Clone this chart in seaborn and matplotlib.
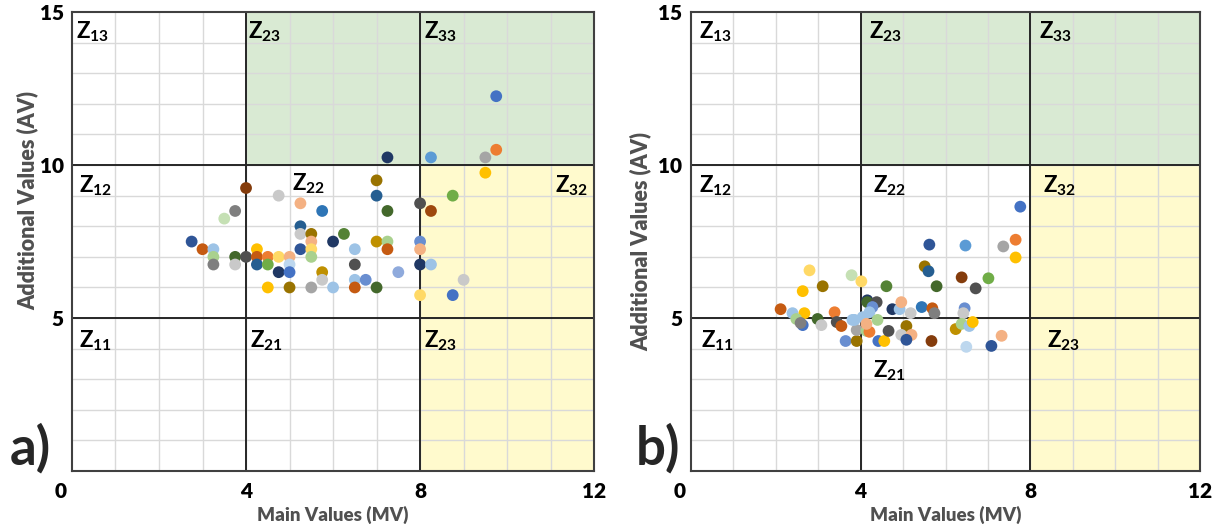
import numpy as np
import pandas as pd
import matplotlib
matplotlib.use("Agg")
import matplotlib.pyplot as plt
import matplotlib.transforms as mtransforms
import seaborn as sns

# --- Data ---
# panel a
mv_a = [2.75, 3.0, 3.25, 3.25, 3.25, 3.5, 3.75, 3.75, 3.75, 4.0,
        4.0, 4.25, 4.25, 4.25, 4.5, 4.5, 4.5, 4.75, 4.75, 4.75,
        5.0, 5.0, 5.0, 5.0, 5.25, 5.25, 5.25, 5.25, 5.5, 5.5,
        5.5, 5.5, 5.5, 5.75, 5.75, 5.75, 6.0, 6.0, 6.25, 6.5,
        6.5, 6.5, 6.5, 6.75, 7.0, 7.0, 7.0, 7.0, 7.25, 7.25,
        7.25, 7.25, 7.5, 8.0, 8.0, 8.0, 8.0, 8.0, 8.25, 8.25,
        8.25, 8.75, 8.75, 9.0, 9.5, 9.5, 9.75, 9.75]
av_a = [7.5, 7.25, 7.25, 7.0, 6.75, 8.25, 8.5, 7.0, 6.75, 7.0,
        9.25, 7.25, 7.0, 6.75, 7.0, 6.75, 6.0, 7.0, 6.5, 9.0,
        7.0, 6.75, 6.5, 6.0, 8.75, 8.0, 7.75, 7.25, 7.75, 7.5,
        7.25, 7.0, 6.0, 8.5, 6.5, 6.25, 7.5, 6.0, 7.75, 7.25,
        6.75, 6.25, 6.0, 6.25, 9.5, 9.0, 7.5, 6.0, 10.25, 8.5,
        7.5, 7.25, 6.5, 8.75, 7.5, 7.25, 6.75, 5.75, 10.25, 8.5,
        6.75, 9.0, 5.75, 6.25, 10.25, 9.75, 10.5, 12.25]
series_a = ["navy", "orangedk", "sky", "ltgreen", "dkgray", "palegreen", "gray2", "dkgreen", "ltgray", "charcoal",
            "brown", "yellow", "orangedk", "teal", "orange", "green", "yellow", "ltyellow", "navy2", "ltgray",
            "peach", "skylight", "blue", "gold", "peach", "teal", "ltgray", "navy", "gold", "peach",
            "ltyellow", "ltgreen", "gray", "blue3", "gold2", "ltgray", "navy2", "sky", "green2", "sky",
            "charcoal", "sky", "orangedk", "blue2", "gold", "teal", "gold2", "dkgreen", "navy2", "dkgreen",
            "ltgreen", "orangedk", "blue4", "charcoal", "blue2", "peach", "navy2", "ltyellow", "ltblue", "brown2",
            "sky", "green", "blue", "ltgray", "gray", "yellow", "orange", "blue"]

# panel b
mv_b = [2.12, 2.4, 2.68, 2.8, 2.64, 3.11, 2.49, 2.64, 2.59, 2.99,
        3.08, 3.39, 3.44, 3.55, 3.79, 4.02, 3.65, 3.91, 3.91, 3.81,
        4.05, 4.14, 4.21, 4.14, 4.16, 4.16, 4.38, 4.28, 4.21, 4.4,
        4.42, 4.56, 4.61, 4.66, 4.75, 4.92, 4.96, 5.08, 4.96, 5.2,
        5.08, 5.18, 5.44, 5.51, 5.6, 5.62, 5.69, 5.74, 5.67, 5.79,
        6.38, 6.47, 6.45, 6.42, 6.24, 6.38, 6.56, 6.64, 6.49, 6.71,
        7.01, 7.08, 7.32, 7.36, 7.65, 7.65, 7.76, 3.86]
av_b = [5.29, 5.16, 5.16, 6.56, 5.88, 6.04, 4.97, 4.77, 4.84, 4.97,
        4.77, 5.19, 4.87, 4.74, 6.4, 6.2, 4.25, 4.25, 4.61, 4.94,
        5.03, 4.58, 4.55, 4.81, 5.58, 5.52, 5.52, 5.36, 5.19, 4.94,
        4.25, 4.25, 6.04, 4.58, 5.29, 5.29, 5.52, 4.74, 4.45, 4.45,
        4.29, 5.16, 5.36, 6.69, 6.53, 7.4, 5.32, 5.16, 4.25, 6.04,
        6.33, 7.37, 5.32, 5.16, 4.64, 4.81, 4.74, 4.87, 4.06, 5.97,
        6.3, 4.09, 4.42, 7.34, 7.56, 6.98, 8.64, 4.94]
series_b = ["orangedk", "sky", "yellow", "ltyellow", "yellow", "gold", "ltgreen", "blue", "dkgray", "dkgreen",
            "ltgray", "orange", "charcoal", "orangedk", "palegreen", "ltyellow", "blue2", "gold", "gray", "sky",
            "sky", "ltgreen", "orange", "peach", "navy2", "dkgreen", "charcoal", "blue2", "sky", "ltgreen",
            "blue", "yellow", "green2", "charcoal", "navy2", "sky", "peach", "gold", "ltgray", "peach",
            "navy", "ltgray", "blue3", "gold", "teal", "navy", "orangedk", "dkgray", "brown", "dkgreen",
            "brown", "ltblue", "blue2", "ltgray", "gold2", "ltgreen", "sky", "yellow", "skylight", "charcoal",
            "green", "navy", "peach", "gray", "orange", "yellow", "blue", "sky"]

x_ticks = [0, 4, 8, 12]
y_ticks = [5, 10, 15]
zone_x = [4, 8]
zone_y = [5, 10]

# zone names: (label, x, y) with y at baseline
zones_a = [("13", 0.1, 14.15), ("23", 4.05, 14.15), ("33", 8.1, 14.15),
           ("12", 0.15, 9.12), ("22", 5.05, 9.18), ("32", 11.1, 9.12),
           ("11", 0.15, 4.05), ("21", 4.1, 4.05), ("23", 8.1, 4.05)]
zones_b = [("13", 0.2, 14.15), ("23", 4.2, 14.15), ("33", 8.2, 14.15),
           ("12", 0.2, 9.12), ("22", 4.3, 9.12), ("32", 8.3, 9.12),
           ("11", 0.25, 4.05), ("21", 4.3, 3.05), ("23", 8.4, 4.05)]

PALETTE = {
    "blue": "#4472C4", "orange": "#ED7D31", "gray": "#A5A5A5", "yellow": "#FFC000",
    "ltblue": "#5B9BD5", "green": "#70AD47", "navy": "#2F5597", "navy2": "#203864",
    "brown": "#843C0C", "brown2": "#9E480E", "dkgray": "#7F7F7F", "gray2": "#7F7F7F",
    "charcoal": "#505050", "gold": "#997300", "gold2": "#BF9000", "teal": "#255E91",
    "dkgreen": "#43682B", "green2": "#548235", "blue2": "#698ED0", "blue3": "#2E75B6",
    "blue4": "#8FAADC", "peach": "#F4B183", "ltgray": "#C9C9C9", "ltyellow": "#FFD966",
    "sky": "#9DC3E6", "skylight": "#BDD7EE", "ltgreen": "#A9D18E", "palegreen": "#C5E0B4",
    "orangedk": "#C55A11",
}

FONT = ["Lato", "DejaVu Sans"]
GREEN_FILL = "#D9EAD3"
YELLOW_FILL = "#FFFACD"
GRID_COLOR = "#D9D9D9"

sns.set_style("white")
plt.rcParams["font.family"] = FONT
plt.rcParams["mathtext.fontset"] = "custom"
plt.rcParams["mathtext.rm"] = "Lato"
plt.rcParams["mathtext.bf"] = "Lato:bold"


def draw_panel(ax, mv, av, series, zones):
    ax.set_xlim(0, 12)
    ax.set_ylim(0, 15)

    # background zones
    ax.fill_between([4, 12], 10, 15, color=GREEN_FILL, lw=0, zorder=0)
    ax.fill_between([8, 12], 0, 10, color=YELLOW_FILL, lw=0, zorder=0)

    # unit grid
    for v in range(1, 12):
        ax.axvline(v, color=GRID_COLOR, lw=1, zorder=1)
    for v in range(1, 15):
        ax.axhline(v, color=GRID_COLOR, lw=1, zorder=1)
    for v in zone_x:
        ax.axvline(v, color="#262626", lw=1.4, zorder=2)
    for v in zone_y:
        ax.axhline(v, color="#262626", lw=1.4, zorder=2)

    df = pd.DataFrame({"MV": mv, "AV": av, "series": series})
    sns.scatterplot(data=df, x="MV", y="AV", hue="series", palette=PALETTE,
                    s=72, linewidth=0, legend=False, ax=ax, zorder=3)

    for name, x, y in zones:
        ax.text(x, y, r"$\mathbf{Z_{" + name + r"}}$", fontsize=16,
                ha="left", va="baseline", color="black", zorder=4)

    ax.set_xticks(x_ticks, labels=[str(t) for t in x_ticks], fontweight="heavy", fontsize=15)
    ax.set_yticks(y_ticks, labels=[str(t) for t in y_ticks], fontweight="heavy", fontsize=15)
    ax.tick_params(axis="both", length=0, colors="black")
    ax.tick_params(axis="x", pad=8)
    ax.tick_params(axis="y", pad=6)
    # the "0" sits left of the corner like in the original
    first = ax.get_xticklabels()[0]
    first.set_ha("right")
    first.set_transform(first.get_transform() +
                        mtransforms.ScaledTranslation(-0.05, 0, ax.figure.dpi_scale_trans))

    ax.set_xlabel("Main Values (MV)", fontsize=13.5, fontweight="heavy", color="#505050", labelpad=3)
    ax.set_ylabel("Additional Values (AV)", fontsize=15.5, fontweight="heavy", color="#505050", labelpad=5)

    for sp in ax.spines.values():
        sp.set_color("#404040")
        sp.set_linewidth(1.5)
        sp.set_zorder(5)


fig = plt.figure(figsize=(12.2, 5.24), dpi=100)
ax_a = fig.add_axes([0.059, 0.101, 0.428, 0.876])
ax_b = fig.add_axes([0.566, 0.101, 0.418, 0.876])

draw_panel(ax_a, mv_a, av_a, series_a, zones_a)
draw_panel(ax_b, mv_b, av_b, series_b, zones_b)
# in panel a the y label sits higher, clear of the "a)" tag
ax_a.yaxis.set_label_coords(-0.064, 0.59)

fig.text(0.008, 0.113, "a)", fontsize=38, fontweight="bold", ha="left", va="baseline")
fig.text(0.521, 0.113, "b)", fontsize=38, fontweight="bold", ha="left", va="baseline")

fig.savefig("out.png", dpi=100)
